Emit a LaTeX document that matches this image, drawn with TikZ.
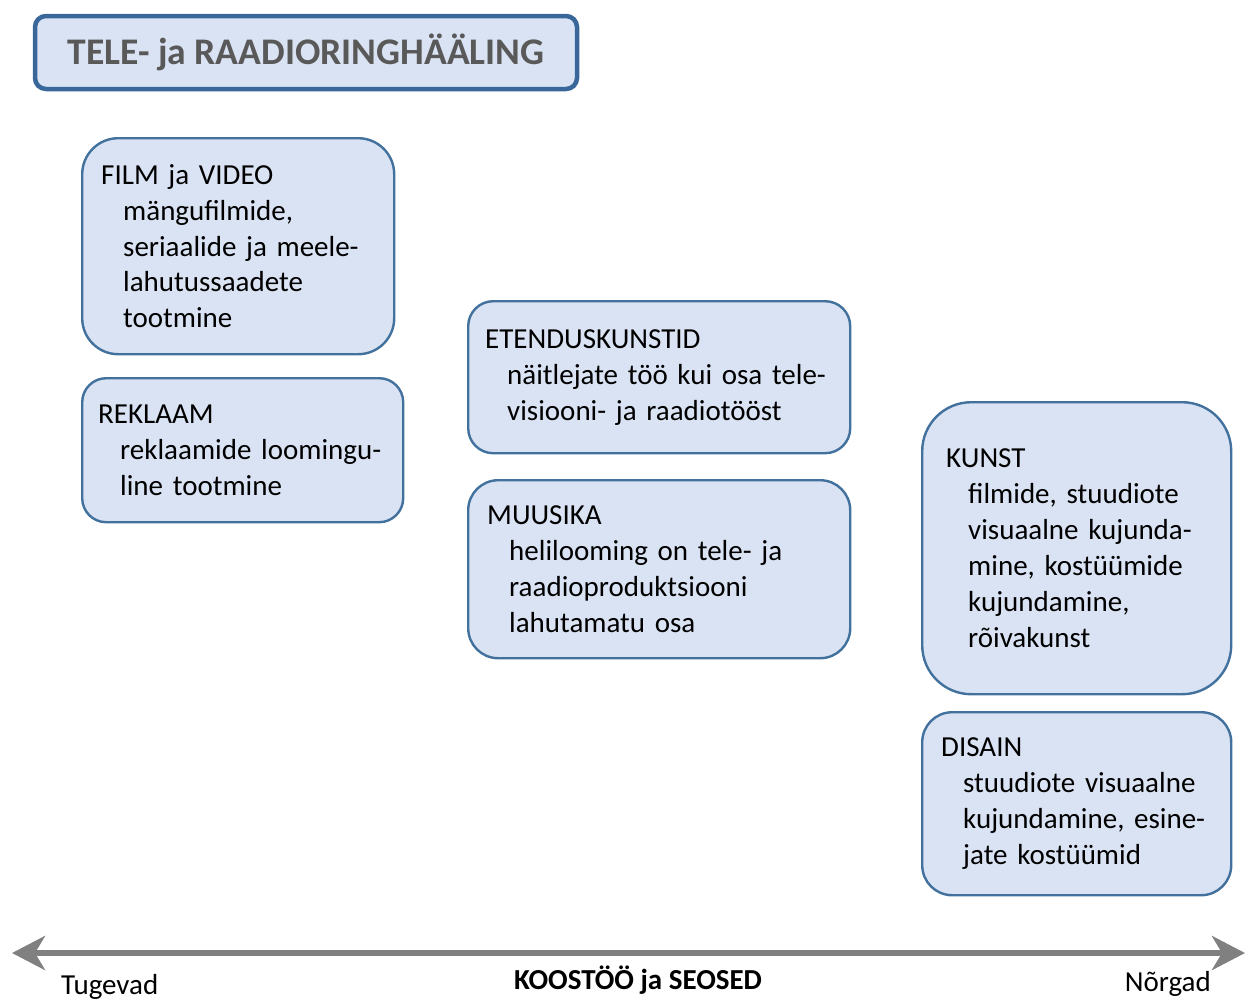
\documentclass[tikz,border=0pt]{standalone}
\usepackage{fontspec}
\setmainfont{Carlito}
\usetikzlibrary{arrows.meta}
\definecolor{boxfill}{HTML}{DAE3F3}
\definecolor{boxline}{HTML}{41719C}
\definecolor{titleline}{HTML}{3A679A}
\definecolor{titletext}{HTML}{595959}
\definecolor{axisgray}{HTML}{808080}

\begin{document}
\begin{tikzpicture}[x=1pt,y=-1pt]
 \tikzset{
  field/.style={draw=boxline,fill=boxfill,line width=2.4pt,anchor=north west,
   align=left,inner xsep=19pt,inner ysep=0pt,
   font=\fontsize{29}{35.9}\selectfont},
  axis/.style={draw=axisgray,line width=6pt,
   {Stealth[length=33pt,width=34pt,inset=10pt]}-{Stealth[length=33pt,width=34pt,inset=10pt]}},
  label/.style={font=\fontsize{29}{32}\selectfont,inner sep=0pt}}
 \useasboundingbox (0,0) rectangle (1247,999);
 \node[draw=titleline,fill=boxfill,line width=4.5pt,rounded corners=11pt,
  minimum width=542pt,minimum height=73pt,text=titletext,
  font=\bfseries\fontsize{37.6}{40}\selectfont](title) at (306,52.5){TELE- ja RAADIORINGHÄÄLING};
 \node[field,rounded corners=36pt,text width=274pt,minimum height=216pt](film) at (81,137)
  {FILM ja VIDEO\\\hspace*{22pt}mängufilmide,\\\hspace*{22pt}seriaalide ja meele-\\\hspace*{22pt}lahutussaadete\\\hspace*{22pt}tootmine};
 \node[field,rounded corners=24pt,inner xsep=16pt,text width=289pt,minimum height=144pt](ads) at (81,377)
  {REKLAAM\\\hspace*{22pt}reklaamide loomingu-\\\hspace*{22pt}line tootmine};
 \node[field,rounded corners=25pt,inner xsep=17pt,text width=348pt,minimum height=152pt](stage) at (467,300)
  {ETENDUSKUNSTID\\\hspace*{22pt}näitlejate töö kui osa tele-\\\hspace*{22pt}visiooni- ja raadiotööst};
 \node[field,text width=344pt,rounded corners=30pt,minimum height=178pt](music) at (467,479)
  {MUUSIKA\\\hspace*{22pt}helilooming on tele- ja\\\hspace*{22pt}raadioproduktsiooni\\\hspace*{22pt}lahutamatu osa};
 \node[field,rounded corners=49pt,inner xsep=24pt,text width=261pt,minimum height=292pt](art) at (921,401)
  {KUNST\\\hspace*{22pt}filmide, stuudiote\\\hspace*{22pt}visuaalne kujunda-\\\hspace*{22pt}mine, kostüümide\\\hspace*{22pt}kujundamine,\\\hspace*{22pt}rõivakunst};
 \node[field,rounded corners=30pt,text width=271pt,minimum height=183pt](design) at (921,711)
  {DISAIN\\\hspace*{22pt}stuudiote visuaalne\\\hspace*{22pt}kujundamine, esine-\\\hspace*{22pt}jate kostüümid};
 % axis
 \coordinate (strongend) at (12,953);
 \coordinate (weakend) at (1245,953);
 \draw[axis] (strongend) -- (weakend);
 \node[label,anchor=base west](strong) at (61,994){Tugevad};
 \node[label,anchor=base,font=\bfseries\fontsize{29}{32}\selectfont](links) at (638,989){KOOSTÖÖ ja SEOSED};
 \node[label,anchor=base east](weak) at (1211,991){Nõrgad};
\end{tikzpicture}
\end{document}
